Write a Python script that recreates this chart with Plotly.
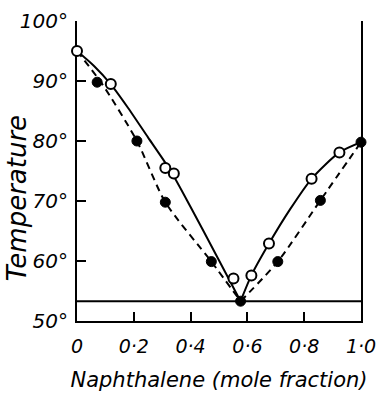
import plotly.graph_objects as go

# ---- data ----
open_x = [0.0, 0.119, 0.311, 0.341, 0.551, 0.614, 0.676, 0.826, 0.924]
open_y = [95.0, 89.5, 75.5, 74.6, 57.1, 57.6, 62.9, 73.7, 78.1]

filled_x = [0.071, 0.211, 0.311, 0.473, 0.576, 0.707, 0.857, 1.0]
filled_y = [89.8, 80.0, 69.8, 59.9, 53.3, 59.9, 70.1, 79.8]

# solid curves (through open circles)
solid_left_x = [0.0, 0.06, 0.12, 0.18, 0.25, 0.33, 0.40, 0.49, 0.576]
solid_left_y = [95.0, 92.5, 89.4, 85.5, 80.6, 75.0, 69.0, 61.0, 53.3]
solid_right_x = [0.576, 0.614, 0.676, 0.75, 0.826, 0.924, 1.0]
solid_right_y = [53.3, 57.6, 62.9, 68.6, 73.7, 78.1, 79.8]

# dashed curves (through filled circles)
dashed_left_x = [0.0, 0.09, 0.211, 0.311, 0.473, 0.576]
dashed_left_y = [95.0, 89.4, 80.0, 69.8, 59.9, 53.3]
dashed_right_x = [0.576, 0.707, 0.857, 1.0]
dashed_right_y = [53.3, 59.9, 70.1, 79.8]

eutectic_T = 53.3

x_ticks = [0, 0.2, 0.4, 0.6, 0.8, 1.0]
x_ticklabels = ["0", "0·2", "0·4", "0·6", "0·8", "1·0"]
y_ticks = [50, 60, 70, 80, 90, 100]
y_ticklabels = ["50°", "60°", "70°", "80°", "90°", "100°"]

FONT = "DejaVu Sans"

fig = go.Figure()

for xs, ys in [(solid_left_x, solid_left_y), (solid_right_x, solid_right_y)]:
    fig.add_trace(go.Scatter(x=xs, y=ys, mode="lines",
                             line=dict(color="black", width=2, shape="spline", smoothing=0.7),
                             hoverinfo="skip", showlegend=False, cliponaxis=False))
for xs, ys in [(dashed_left_x, dashed_left_y), (dashed_right_x, dashed_right_y)]:
    fig.add_trace(go.Scatter(x=xs, y=ys, mode="lines",
                             line=dict(color="black", width=2, shape="spline", smoothing=0.7,
                                       dash="7px,5px"),
                             hoverinfo="skip", showlegend=False, cliponaxis=False))

fig.add_trace(go.Scatter(x=[0, 1.0], y=[eutectic_T, eutectic_T], mode="lines",
                         line=dict(color="black", width=2), showlegend=False, hoverinfo="skip"))

fig.add_trace(go.Scatter(x=open_x, y=open_y, mode="markers",
                         marker=dict(size=10, color="white", line=dict(color="black", width=2)),
                         showlegend=False, cliponaxis=False))
fig.add_trace(go.Scatter(x=filled_x, y=filled_y, mode="markers",
                         marker=dict(size=10, color="black", line=dict(color="black", width=1)),
                         showlegend=False, cliponaxis=False))

fig.update_layout(
    width=381, height=393,
    margin=dict(l=77, r=5, t=21, b=71),
    paper_bgcolor="white", plot_bgcolor="white",
    font=dict(family=FONT, color="black", style="italic"),
    xaxis=dict(
        range=[0, 1.0], tickvals=x_ticks, ticktext=x_ticklabels,
        ticks="inside", ticklen=9, tickwidth=2, tickcolor="black",
        showline=True, linecolor="black", linewidth=2, mirror=False,
        showgrid=False, zeroline=False, layer="below traces",
        ticklabeloverflow="allow",
        tickfont=dict(family=FONT, size=19, style="italic"),
        ticklabelstandoff=7,
        title=dict(text="Naphthalene (mole fraction)", standoff=17,
                   font=dict(family=FONT, size=21, style="italic")),
    ),
    yaxis=dict(
        range=[50, 100], tickvals=y_ticks, ticktext=y_ticklabels,
        ticks="inside", ticklen=9, tickwidth=2, tickcolor="black",
        showline=True, linecolor="black", linewidth=2, mirror=True,
        showgrid=False, zeroline=False, layer="below traces",
        ticklabeloverflow="allow",
        tickfont=dict(family=FONT, size=20, style="italic"),
        ticklabelstandoff=3,
    ),
    annotations=[dict(text="Temperature", xref="paper", yref="paper",
                      x=-0.21, y=0.41, showarrow=False, textangle=-90,
                      xanchor="center", yanchor="middle",
                      font=dict(family=FONT, size=26, style="italic"))],
)

fig.write_html("out.html")
